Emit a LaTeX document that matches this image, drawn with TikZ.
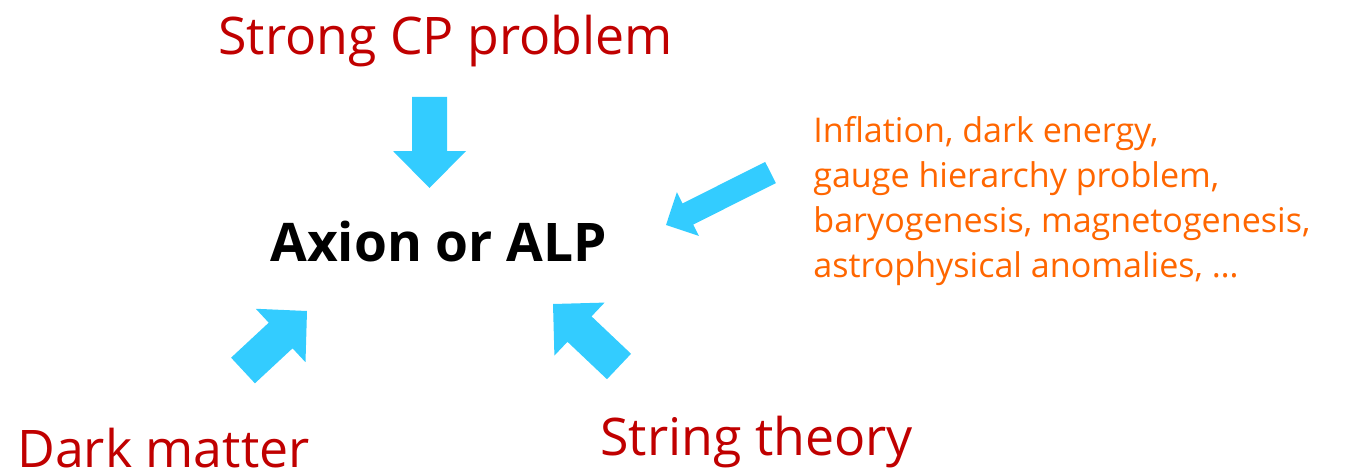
\documentclass[tikz,border=0pt]{standalone}
\usepackage{fontspec}
\setmainfont{Open Sans}
\usepackage{xcolor}
\usetikzlibrary{calc}
\definecolor{motired}{RGB}{192,0,0}
\definecolor{motiorange}{RGB}{255,102,0}
\definecolor{motiblue}{RGB}{51,204,255}
% block arrow: tail, tip, half shaft, half head, head length
\newcommand{\fatarrow}[5]{%
  \coordinate (hb) at ($(#2)!#5!(#1)$);
  \fill[motiblue] ($(#1)!#3!90:(#2)$) -- ($(hb)!#3!90:(#2)$) -- ($(hb)!#4!90:(#2)$)
    -- (#2) -- ($(hb)!#4!-90:(#2)$) -- ($(hb)!#3!-90:(#2)$) -- ($(#1)!#3!-90:(#2)$) -- cycle;}

\begin{document}
\begin{tikzpicture}[x=0.02cm, y=-0.02cm,
        every node/.style={inner sep=0pt, anchor=base west},
        motive/.style={text=motired, font=\fontsize{29.5}{34}\selectfont},
        hint/.style={text=motiorange, align=left, font=\fontsize{19.4}{25.5}\selectfont},
        target/.style={font=\bfseries\fontsize{30.3}{34}\selectfont}]
        \useasboundingbox (0,0) rectangle (1354,469);
        \node[motive] (cp) at (218,55) {Strong CP problem};
        \node[target] (alp) at (270,262) {Axion or ALP};
        \node[motive] (dm) at (17,467) {Dark matter};
        \node[motive] (st) at (600,455) {String theory};
        % base of a multi-line node is its last line
        \node[hint] (misc) at (813,277) {Inflation, dark energy,\\gauge hierarchy problem,\\baryogenesis, magnetogenesis,\\astrophysical anomalies, \dots};
        % arrows towards the axion
        \coordinate (cpTail) at (429.5,97);  \coordinate (cpTip) at (429.5,188);
        \coordinate (miscTail) at (770.5,172.5); \coordinate (miscTip) at (666,225);
        \coordinate (dmTail) at (243,370.5); \coordinate (dmTip) at (307,311);
        \coordinate (stTail) at (619,366.5); \coordinate (stTip) at (553,304);
        \fatarrow{cpTail}{cpTip}{0.35cm}{0.73cm}{0.74cm}
        \fatarrow{miscTail}{miscTip}{0.237cm}{0.49cm}{0.49cm}
        \fatarrow{dmTail}{dmTip}{0.35cm}{0.73cm}{0.72cm}
        \fatarrow{stTail}{stTip}{0.35cm}{0.73cm}{0.73cm}
      \end{tikzpicture}
\end{document}
